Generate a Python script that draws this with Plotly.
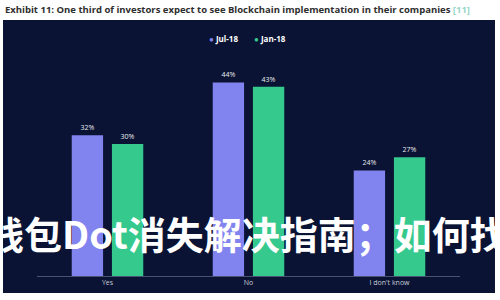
import plotly.graph_objects as go

categories = ["Yes", "No", "I don't know"]
jul18 = [32, 44, 24]
jan18 = [30, 43, 27]
series_names = ["Jul-18", "Jan-18"]
colors = ["#8183ef", "#35c98d"]

W, H = 500, 300
L, R, T, B = 37, 40, 56, 24
pw, ph = W - L - R, H - T - B

def px_x(p):
    return (p - L) / pw

def px_y(p):
    return (H - B - p) / ph

fig = go.Figure()
for name, vals, col in zip(series_names, [jul18, jan18], colors):
    fig.add_trace(go.Bar(
        x=categories, y=vals, name=name, showlegend=False,
        marker=dict(color=col, line=dict(width=0)),
        text=[f"{v}%" for v in vals], textposition="outside",
        textfont=dict(size=7, color="#e8eaf2", family="Open Sans"),
        cliponaxis=False,
    ))

legend_annots = []
for i, (name, col) in enumerate(zip(series_names, colors)):
    legend_annots.append(dict(
        xref="paper", yref="paper", x=px_x(207 + 45 * i), y=px_y(39),
        xanchor="left", yanchor="middle", showarrow=False,
        text=f"<span style='color:{col}'>●</span> {name}",
        font=dict(size=8, color="#ffffff", family="Open Sans", weight="bold"),
    ))

fig.update_layout(
    width=W, height=H,
    margin=dict(l=L, r=R, t=T, b=B, pad=0),
    paper_bgcolor="white",
    plot_bgcolor="rgba(0,0,0,0)",
    barmode="group",
    bargap=0.43,
    bargroupgap=0.22,
    showlegend=False,
    xaxis=dict(
        showline=True, linecolor="#4a5272", linewidth=1,
        showgrid=False, zeroline=False, ticks="",
        tickfont=dict(size=7, color="#c9cdd9", family="Open Sans"),
        fixedrange=True,
    ),
    yaxis=dict(
        range=[0, 50], visible=False, showgrid=False, zeroline=False,
        fixedrange=True,
    ),
    shapes=[dict(
        type="rect", xref="paper", yref="paper", layer="below",
        x0=px_x(3), x1=px_x(495), y0=px_y(293), y1=px_y(20),
        fillcolor="#0a1333", line=dict(width=0),
    )],
    annotations=[
        dict(
            xref="paper", yref="paper", x=px_x(3), y=px_y(9),
            xanchor="left", yanchor="middle", showarrow=False,
            text="Exhibit 11: One third of investors expect to see Blockchain implementation in their companies <span style='color:#9ad8c8'>[11]</span>",
            font=dict(size=9.5, color="#2e2e2e", family="Open Sans", weight="bold"),
        ),
        *legend_annots,
        dict(
            xref="paper", yref="paper", x=px_x(247), y=px_y(232),
            xanchor="center", yanchor="middle", showarrow=False,
            text="钱包Dot消失解决指南；如何找",
            font=dict(size=38, color="#ffffff", family="Noto Sans CJK SC", weight="bold"),
        ),
    ],
)

fig.write_html("out.html")
